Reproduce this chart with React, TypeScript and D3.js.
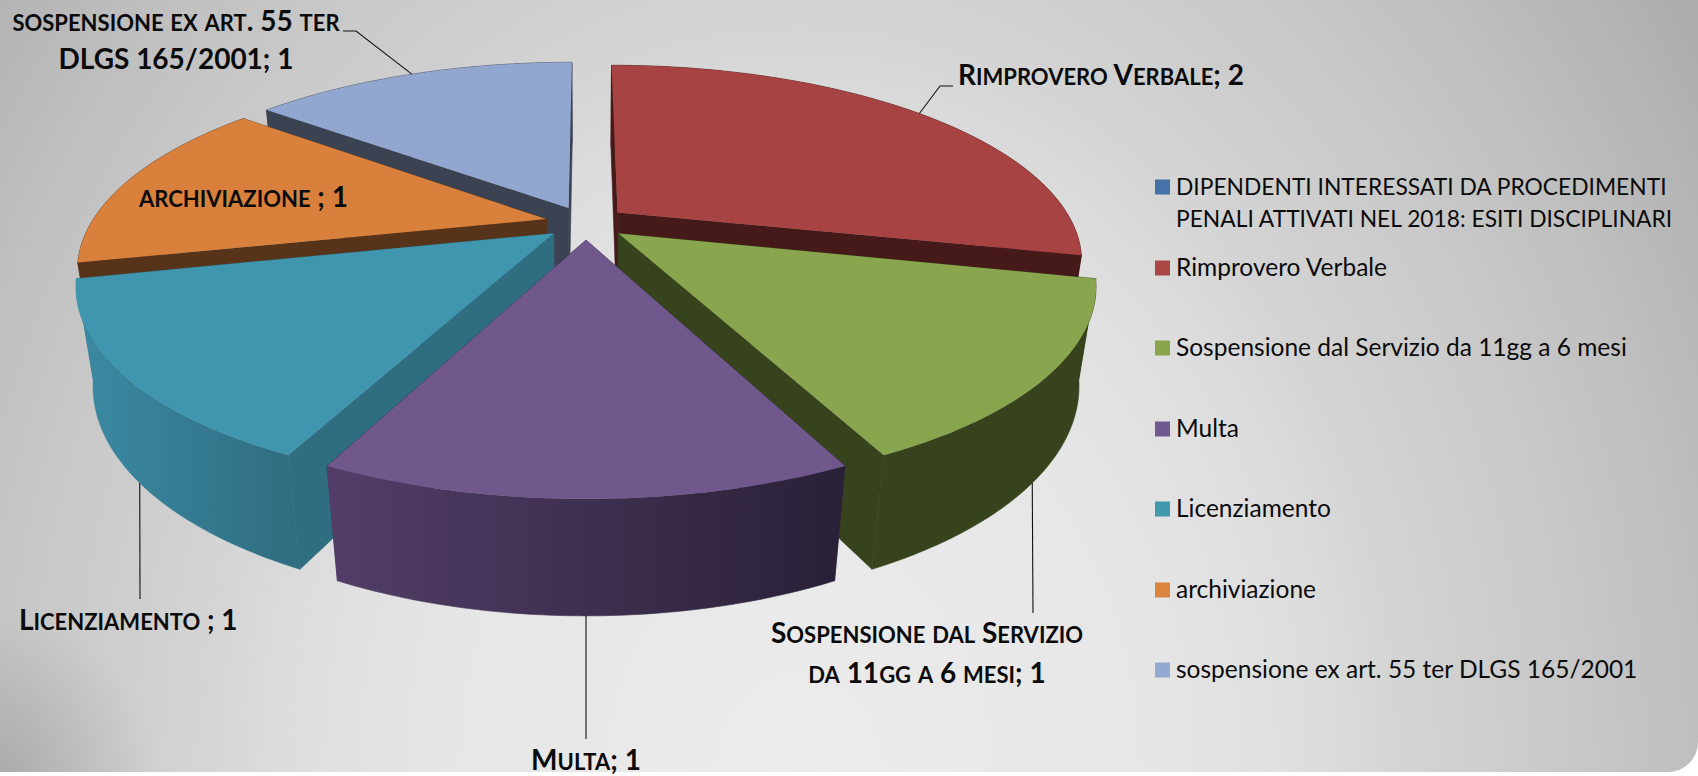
import React from "react";
import * as d3 from "d3";

const W = 1698;
const H = 776;

const categories = [
  "DIPENDENTI INTERESSATI DA PROCEDIMENTI PENALI ATTIVATI NEL 2018: ESITI DISCIPLINARI",
  "Rimprovero Verbale",
  "Sospensione dal Servizio da 11gg a 6 mesi",
  "Multa",
  "Licenziamento",
  "archiviazione",
  "sospensione ex art. 55 ter DLGS 165/2001",
];
const values = [0, 2, 1, 1, 1, 1, 1];
const topColors = ["#4572a7", "#a74342", "#89a54e", "#71588c", "#4096ae", "#d9813c", "#92a7cf"];
const sideColors = ["#2a4565", "#461a19", "#37431d", "#3f2f55", "#2f6d80", "#57331a", "#3b4252"];
const legendColors = ["#4572a7", "#aa4643", "#89a54e", "#71588f", "#4198af", "#db843d", "#93a9cf"];

// Camera fitted to the picture: radius = 1 in the pie's own plane.
const EXPLODE = 0.09;
const project = (x: number, y: number, z: number): [number, number] => {
  const w = 1 + 0.24 * y + 0.032 * z;
  return [586 + (455 * x) / w, 222.8 - (187 * y - 99 * z) / w];
};

type Lbl = { lines: string[]; x: number; ys: number[]; anchor: string; size: number };

const LABEL_SIZE = 28;

const labelLayout: Record<number, { label: Lbl; leader?: [number, number][]; rim?: number }> = {
  1: {
    rim: 0,
    leader: [[940, 86], [953, 86]],
    label: { lines: ["Rimprovero Verbale; 2"], x: 958, ys: [85], anchor: "start", size: LABEL_SIZE },
  },
  2: {
    rim: 1,
    leader: [[1033, 613]],
    label: {
      lines: ["Sospensione dal Servizio", "da 11gg a 6 mesi; 1"],
      x: 927,
      ys: [643, 683],
      anchor: "middle",
      size: LABEL_SIZE,
    },
  },
  3: {
    rim: 1,
    leader: [[586, 739]],
    label: { lines: ["Multa; 1"], x: 586, ys: [770], anchor: "middle", size: LABEL_SIZE },
  },
  4: {
    rim: 1,
    leader: [[140, 599]],
    label: { lines: ["Licenziamento ; 1"], x: 19, ys: [630], anchor: "start", size: LABEL_SIZE },
  },
  5: {
    label: { lines: ["archiviazione ; 1"], x: 139, ys: [207], anchor: "start", size: LABEL_SIZE },
  },
  6: {
    rim: 0,
    leader: [[356, 31], [343, 31]],
    label: {
      lines: ["sospensione ex art. 55 ter", "DLGS 165/2001; 1"],
      x: 176,
      ys: [31, 69],
      anchor: "middle",
      size: LABEL_SIZE,
    },
  },
};

const legendRows = [187, 268, 348, 429, 509, 590, 670];
const legendLines: string[][] = [
  ["DIPENDENTI INTERESSATI DA PROCEDIMENTI", "PENALI ATTIVATI NEL 2018: ESITI DISCIPLINARI"],
  [categories[1]],
  [categories[2]],
  [categories[3]],
  [categories[4]],
  [categories[5]],
  [categories[6]],
];

const SMALL = 0.8 / 0.7; // lower-case runs are drawn as caps at 80% of the cap size

function smallCapRuns(text: string, size: number) {
  return text.split(/([a-z]+)/).filter(Boolean).map((run, i) => (
    <tspan key={i} fontSize={/^[a-z]/.test(run) ? size * SMALL : size}>
      {run}
    </tspan>
  ));
}

const line = d3.line<[number, number]>();

export default function App() {
  const arcs = d3.pie<number>().sort(null)(values);
  const slices = arcs
    .map((a, i) => {
      const mid = (a.startAngle + a.endAngle) / 2;
      const ox = Math.sin(mid) * EXPLODE;
      const oy = Math.cos(mid) * EXPLODE;
      const rim = (t: number, z: number) => project(Math.sin(t) + ox, Math.cos(t) + oy, z);
      const tip = (z: number) => project(ox, oy, z);
      const ts = d3.range(0, 61).map((k) => a.startAngle + ((a.endAngle - a.startAngle) * k) / 60);
      const top: [number, number][] = [tip(0), ...ts.map((t) => rim(t, 0))];
      const outer: [number, number][] = [
        ...ts.map((t) => rim(t, 0)),
        ...ts.slice().reverse().map((t) => rim(t, 1)),
      ];
      const faceA: [number, number][] = [tip(0), rim(a.startAngle, 0), rim(a.startAngle, 1), tip(1)];
      const faceB: [number, number][] = [tip(0), rim(a.endAngle, 0), rim(a.endAngle, 1), tip(1)];
      return { i, mid, top, outer, faceA, faceB, rim, depth: Math.cos(mid), empty: values[i] === 0 };
    })
    .filter((s) => !s.empty)
    .sort((p, q) => q.depth - p.depth);

  return (
    <svg
      width={W}
      height={H}
      viewBox={`0 0 ${W} ${H}`}
      style={{ position: "fixed", left: 0, top: 0, display: "block", background: "#fff" }}
      fontFamily="Lato, 'Open Sans', sans-serif"
    >
      <defs>
        <radialGradient
          id="bg"
          gradientUnits="userSpaceOnUse"
          cx={0}
          cy={0}
          r={1}
          gradientTransform="translate(800 776) scale(1100 1375)"
        >
          <stop offset="0" stopColor="#ececec" />
          <stop offset="0.32" stopColor="#e6e6e6" />
          <stop offset="0.456" stopColor="#dedede" />
          <stop offset="0.56" stopColor="#d3d3d3" />
          <stop offset="0.68" stopColor="#cacaca" />
          <stop offset="0.8" stopColor="#c0c0c0" />
          <stop offset="1" stopColor="#ababab" />
        </radialGradient>
        <radialGradient id="corner" gradientUnits="userSpaceOnUse" cx={0} cy={776} r={160}>
          <stop offset="0" stopColor="#000" stopOpacity={0.14} />
          <stop offset="1" stopColor="#000" stopOpacity={0} />
        </radialGradient>
        <linearGradient id="side3" gradientUnits="userSpaceOnUse" x1={326} x2={847} y1={0} y2={0}>
          <stop offset="0" stopColor="#523e68" />
          <stop offset="0.5" stopColor="#3e2f50" />
          <stop offset="1" stopColor="#292036" />
        </linearGradient>
        <linearGradient id="side4" gradientUnits="userSpaceOnUse" x1={75} x2={300} y1={0} y2={0}>
          <stop offset="0" stopColor="#3b8aa3" />
          <stop offset="1" stopColor="#2f6d80" />
        </linearGradient>
      </defs>
      <path d={`M0 0H${W}V${772 - 30}A30 30 0 0 1 ${W - 30} 772H0Z`} fill="url(#bg)" />
      <rect x={0} y={612} width={160} height={160} fill="url(#corner)" />

      {slices.map((s) => {
        const outerFill = s.i === 3 ? "url(#side3)" : s.i === 4 ? "url(#side4)" : sideColors[s.i];
        return (
          <g key={s.i}>
            <path d={line(s.faceA)! + "Z"} fill={sideColors[s.i]} stroke={sideColors[s.i]} strokeWidth={0.6} />
            <path d={line(s.faceB)! + "Z"} fill={sideColors[s.i]} stroke={sideColors[s.i]} strokeWidth={0.6} />
            <path d={line(s.outer)! + "Z"} fill={outerFill} stroke={outerFill} strokeWidth={0.6} />
            <path d={line(s.top)! + "Z"} fill={topColors[s.i]} />
          </g>
        );
      })}

      {Object.entries(labelLayout).map(([k, l]) => {
        const i = +k;
        const s = slices.find((v) => v.i === i)!;
        const pts: [number, number][] | null =
          l.rim === undefined ? null : [s.rim(s.mid, l.rim), ...(l.leader as [number, number][])];
        return (
          <g key={k}>
            {pts && <path d={line(pts)!} fill="none" stroke="#111" strokeWidth={1.1} />}
            {l.label.lines.map((t, n) => (
              <text
                key={n}
                x={l.label.x}
                y={l.label.ys[n]}
                textAnchor={l.label.anchor}
                fontWeight={700}
                fill="#0b0b0b"
                style={{ fontVariant: "small-caps" }}
              >
                {smallCapRuns(t, l.label.size)}
              </text>
            ))}
          </g>
        );
      })}

      {legendLines.map((ls, i) => (
        <g key={i}>
          <rect x={1155} y={legendRows[i] - 7.5} width={15} height={15} fill={legendColors[i]} />
          {ls.map((t, n) => (
            <text key={n} x={1176} y={legendRows[i] + 8 + n * 32} fontSize={i === 0 ? 22.8 : 24.5} fill="#0b0b0b">
              {t}
            </text>
          ))}
        </g>
      ))}
    </svg>
  );
}
